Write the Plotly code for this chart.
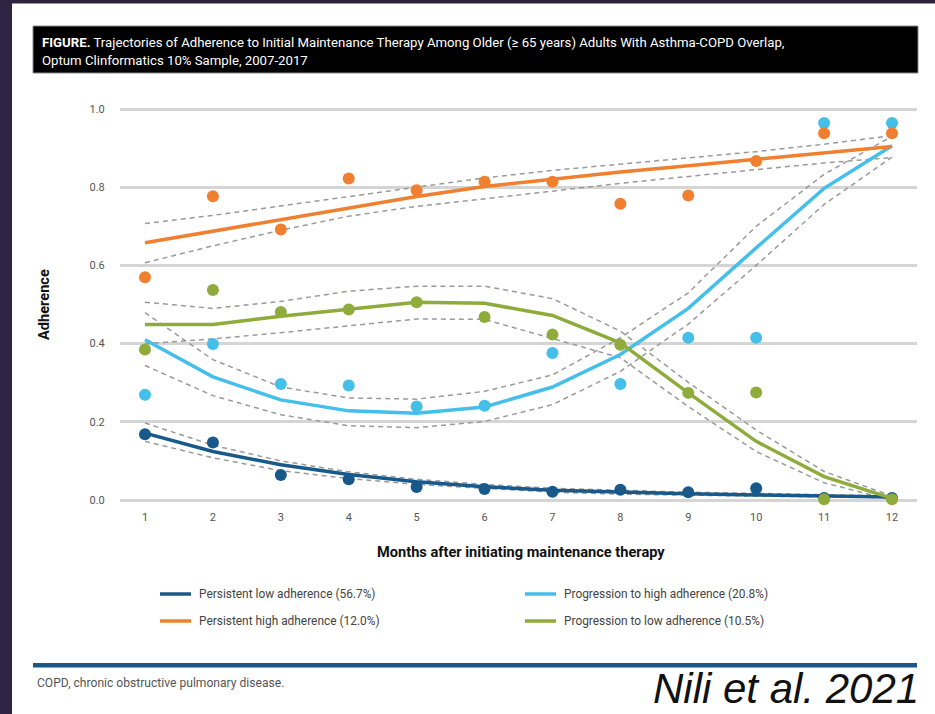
import plotly.graph_objects as go

# ---- data -------------------------------------------------------------
months = list(range(1, 13))
month_labels = [str(m) for m in months]
y_ticks = [0.0, 0.2, 0.4, 0.6, 0.8, 1.0]

# observed mean adherence per month
obs_low = [0.168, 0.147, 0.064, 0.053, 0.033, 0.028, 0.021, 0.026, 0.020, 0.030, 0.005, 0.005]
obs_prog_high = [0.269, 0.399, 0.297, 0.293, 0.239, 0.241, 0.376, 0.297, 0.415, 0.415, 0.964, 0.964]
obs_high = [0.570, 0.777, 0.692, 0.822, 0.792, 0.814, 0.814, 0.758, 0.779, 0.867, 0.938, 0.938]
obs_prog_low = [0.385, 0.537, 0.481, 0.487, 0.506, 0.468, 0.423, 0.397, 0.274, 0.275, 0.002, 0.002]

# fitted trajectories
fit_low = [0.171, 0.124, 0.090, 0.065, 0.047, 0.034, 0.025, 0.020, 0.016, 0.013, 0.010, 0.008]
fit_prog_high = [0.410, 0.315, 0.256, 0.228, 0.222, 0.238, 0.289, 0.372, 0.490, 0.645, 0.797, 0.906]
fit_high = [0.658, 0.688, 0.718, 0.748, 0.776, 0.802, 0.821, 0.839, 0.855, 0.872, 0.889, 0.904]
fit_prog_low = [0.449, 0.449, 0.470, 0.489, 0.506, 0.503, 0.472, 0.402, 0.274, 0.150, 0.060, 0.004]

# confidence bands (upper / lower)
up_low = [0.197, 0.140, 0.100, 0.072, 0.053, 0.040, 0.030, 0.025, 0.020, 0.017, 0.013, 0.010]
lo_low = [0.150, 0.108, 0.075, 0.055, 0.040, 0.030, 0.020, 0.015, 0.012, 0.010, 0.008, 0.006]
up_prog_high = [0.479, 0.359, 0.289, 0.261, 0.258, 0.278, 0.320, 0.415, 0.530, 0.700, 0.833, 0.930]
lo_prog_high = [0.344, 0.267, 0.218, 0.190, 0.185, 0.201, 0.244, 0.329, 0.450, 0.600, 0.756, 0.877]
up_high = [0.707, 0.728, 0.752, 0.776, 0.801, 0.824, 0.843, 0.859, 0.876, 0.891, 0.910, 0.932]
lo_high = [0.607, 0.650, 0.690, 0.726, 0.751, 0.770, 0.790, 0.810, 0.828, 0.845, 0.862, 0.876]
up_prog_low = [0.506, 0.490, 0.508, 0.534, 0.547, 0.547, 0.515, 0.432, 0.301, 0.179, 0.073, 0.010]
lo_prog_low = [0.400, 0.412, 0.428, 0.446, 0.463, 0.462, 0.412, 0.364, 0.239, 0.124, 0.044, 0.000]

names = [
    "Persistent low adherence (56.7%)",
    "Progression to high adherence (20.8%)",
    "Persistent high adherence (12.0%)",
    "Progression to low adherence (10.5%)",
]
colors = ["#17598a", "#43bfea", "#f07f2f", "#8fab3b"]

# ---- page geometry ----------------------------------------------------
W, H = 935, 714
L, R, T, B = 120, 18, 101, 208
PW, PH = W - L - R, H - T - B
FONT = "Roboto, Liberation Sans, sans-serif"
SIG_FONT = "Liberation Sans, Arial, sans-serif"


def px(x):
    return (x - L) / PW


def py(y):
    return (H - B - y) / PH


fig = go.Figure()

bands = [(up_low, lo_low), (up_prog_high, lo_prog_high), (up_high, lo_high), (up_prog_low, lo_prog_low)]
for up, lo in bands:
    for band in (up, lo):
        fig.add_trace(go.Scatter(
            x=months, y=band, mode="lines", hoverinfo="skip", showlegend=False,
            line=dict(color="#9a9a9a", width=1.5, dash="5px,4px"),
        ))

fits = [fit_low, fit_prog_high, fit_high, fit_prog_low]
obs = [obs_low, obs_prog_high, obs_high, obs_prog_low]
for name, col, f, o in zip(names, colors, fits, obs):
    fig.add_trace(go.Scatter(
        x=months, y=f, mode="lines", name=name, showlegend=False,
        line=dict(color=col, width=3.5),
    ))
    fig.add_trace(go.Scatter(
        x=months, y=o, mode="markers", name=name, showlegend=False,
        marker=dict(color=col, size=12), cliponaxis=False,
    ))

shapes = [
    # purple frame strips
    dict(type="rect", xref="paper", yref="paper", x0=px(0), x1=px(12), y0=py(0), y1=py(H),
         fillcolor="#2e2340", line=dict(width=0)),
    dict(type="rect", xref="paper", yref="paper", x0=px(0), x1=px(W), y0=py(0), y1=py(3.5),
         fillcolor="#2e2340", line=dict(width=0)),
    # title box
    dict(type="rect", xref="paper", yref="paper", x0=px(33), x1=px(918), y0=py(26), y1=py(73),
         fillcolor="#000000", line=dict(color="#8a8a8a", width=1)),
    # footer rule
    dict(type="rect", xref="paper", yref="paper", x0=px(33), x1=px(917), y0=py(663), y1=py(667.5),
         fillcolor="#17598a", line=dict(width=0)),
]

annotations = [
    dict(text="<b>FIGURE.</b> Trajectories of Adherence to Initial Maintenance Therapy Among Older (≥ 65 years) Adults With Asthma-COPD Overlap,",
         x=px(40), y=py(43), xanchor="left", yanchor="middle", font=dict(size=13.2, color="white", family=FONT)),
    dict(text="Optum Clinformatics 10% Sample, 2007-2017",
         x=px(40), y=py(60), xanchor="left", yanchor="middle", font=dict(size=13.2, color="white", family=FONT)),
    dict(text="<b>Months after initiating maintenance therapy</b>",
         x=px(521), y=py(552), xanchor="center", yanchor="middle", font=dict(size=14.6, color="#111", family=FONT)),
    dict(text="<b>Adherence</b>", textangle=-90,
         x=px(44), y=py(305), xanchor="center", yanchor="middle", font=dict(size=14.6, color="#111", family=FONT)),
    dict(text="COPD, chronic obstructive pulmonary disease.",
         x=px(35), y=py(683), xanchor="left", yanchor="middle", font=dict(size=12.1, color="#555", family=FONT)),
    dict(text="<i>Nili et al. 2021</i>",
         x=px(921), y=py(688), xanchor="right", yanchor="middle", font=dict(size=42, color="#111", family=SIG_FONT)),
]

# legend: two columns, drawn as sample lines plus text
legend_pos = [(160, 594), (525, 594), (160, 621), (525, 621)]
for (lx, ly), name, col in zip(legend_pos, names, colors):
    shapes.append(dict(type="line", xref="paper", yref="paper", x0=px(lx), x1=px(lx + 31),
                       y0=py(ly), y1=py(ly), line=dict(color=col, width=3.5)))
    annotations.append(dict(text=name, x=px(lx + 37), y=py(ly), xanchor="left", yanchor="middle",
                            font=dict(size=11.9, color="#444", family=FONT)))

for a in annotations:
    a.update(xref="paper", yref="paper", showarrow=False)

fig.update_layout(
    width=W, height=H,
    margin=dict(l=L, r=R, t=T, b=B),
    paper_bgcolor="white", plot_bgcolor="white",
    showlegend=False,
    shapes=shapes, annotations=annotations,
    font=dict(family=FONT),
    xaxis=dict(range=[0.6319, 12.368], tickvals=months, ticktext=month_labels,
               showgrid=False, zeroline=False, showline=False,
               ticks="outside", ticklen=1, tickcolor="rgba(0,0,0,0)",
               tickfont=dict(size=11, color="#555", family=FONT)),
    yaxis=dict(range=[-0.0153, 1.0205], tickvals=y_ticks, tickformat=".1f",
               showgrid=True, gridcolor="#d5d5d5", gridwidth=3, zeroline=False, showline=False,
               ticks="outside", ticklen=12, tickcolor="rgba(0,0,0,0)",
               tickfont=dict(size=11, color="#555", family=FONT)),
)

fig.write_html("out.html")
